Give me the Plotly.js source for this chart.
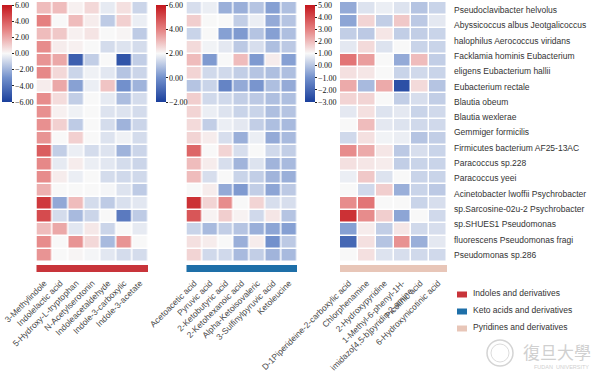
<!DOCTYPE html>
<html><head><meta charset="utf-8">
<script src="https://cdn.plot.ly/plotly-3.0.1.min.js"></script>
<style>html,body{margin:0;padding:0;background:#fff}#chart{width:599px;height:373px}</style>
</head><body><div id="chart"></div>
<script>
const species = [
  'Pseudoclavibacter helvolus','Abyssicoccus albus Jeotgalicoccus','halophilus Aerococcus viridans',
  'Facklamia hominis Eubacterium','eligens Eubacterium hallii','Eubacterium rectale','Blautia obeum',
  'Blautia wexlerae','Gemmiger formicilis','Firmicutes bacterium AF25-13AC','Paracoccus sp.228',
  'Paracoccus yeei','Acinetobacter lwoffii Psychrobacter','sp.Sarcosine-02u-2 Psychrobacter',
  'sp.SHUES1 Pseudomonas','fluorescens Pseudomonas fragi','Pseudomonas sp.286'
];
const indoleCols = ['3-Methylindole','Indolelactic acid','5-Hydroxy-L-tryptophan','N-Acetylserotonin',
  'Indoleacetaldehyde','Indole-3-carboxylic','Indole-3-acetate'];
const ketoCols = ['Acetoacetic acid','Pyruvic acid','2-Ketobutyric acid','2-Ketohexanoic acid',
  'Alpha-Ketoisovaleric','3-Sulfinylpyruvic acid','Ketoleucine'];
const pyridineCols = ['D-1Piperideine-2-carboxylic acid','Chlorphenamine','2-Hydroxypyridine',
  '1-Methyl-6-phenyl-1H-<br>imidazo[4,5-b]pyridin-2-amine','Picolinic acid','6-Hydroxynicotinic acid'];
const rowIds = ['r1','r2','r3','r4','r5','r6','r7','r8','r9','r10','r11','r12','r13','r14','r15','r16','r17','r18','r19','r20'];

const indoleValues = [
  [1.5, 1.5, 0.2, 0.8, -0.4, 0.6, -1.0],
  [3.0, 0.0, 1.5, 0.3, -1.3, 1.0, -0.3],
  [1.5, 1.2, 0.2, 0.5, 0.0, 0.1, -1.3],
  [2.7, 0.3, 0.2, 0.0, -0.8, -0.6, -0.8],
  [2.5, 2.0, -4.8, -1.2, 0.0, -5.2, -1.2],
  [2.8, 0.8, -1.0, -0.2, -0.5, -1.5, -1.0],
  [0.3, 2.0, -2.5, -0.3, 1.3, -3.0, -2.0],
  [2.7, 0.7, -1.2, 0.0, -0.4, -1.7, -0.8],
  [2.6, 0.2, -0.2, 0.0, -0.6, -0.6, -0.8],
  [2.6, 1.0, -1.3, 0.0, -0.8, -2.0, -1.0],
  [2.5, 0.0, 1.0, 0.0, -0.6, -0.2, -0.8],
  [4.0, -1.2, -0.3, -0.8, -0.6, -2.0, -1.0],
  [2.8, -0.4, 0.3, -0.3, -0.5, -0.8, -1.0],
  [2.7, 0.3, -0.3, 0.0, -0.8, -0.9, -0.9],
  [1.8, 0.0, 0.0, 0.0, -0.1, -0.6, -1.3],
  [5.0, -2.3, 1.5, -0.8, -1.3, -0.7, -0.5],
  [4.5, -0.8, -1.8, -1.0, 0.0, -3.8, -1.3],
  [1.5, 2.0, -0.5, 0.4, -1.0, 0.0, -0.4],
  [2.7, 0.0, 2.5, 0.8, -1.8, 2.5, 0.0],
  [2.5, 0.0, 0.1, -0.1, -0.5, -0.8, -0.8]
];
const ketoValues = [
  [1.5, 1.8, 0.6, 0.6, 1.0, 0.3, 0.9],
  [2.7, 2.0, 2.0, 1.2, 1.8, 0.5, 1.0],
  [1.3, 2.0, 0.3, 0.2, 1.0, 0.3, 0.9],
  [2.5, 1.9, 1.7, 1.1, 1.5, 0.9, 1.1],
  [3.0, 0.2, 2.0, 3.0, 0.2, 2.2, 0.3],
  [2.6, 1.4, 1.4, 1.2, 1.0, 0.9, 0.9],
  [1.0, 1.3, -0.3, 0.5, 0.1, 0.9, 0.5],
  [2.7, 1.4, 1.4, 1.2, 1.1, 0.9, 0.9],
  [2.6, 1.8, 1.6, 1.3, 1.3, 0.9, 1.0],
  [2.5, 1.2, 1.8, 1.7, 1.2, 0.9, 0.8],
  [2.6, 2.2, 1.5, 0.6, 1.8, 0.5, 0.8],
  [4.5, 2.0, 2.6, 1.5, 2.0, 1.4, 1.2],
  [3.0, 2.2, 1.5, 0.7, 1.6, 0.7, 0.8],
  [3.0, 1.5, 2.0, 1.3, 1.2, 0.7, 0.6],
  [2.0, 2.2, 0.5, 0.2, 1.2, 0.4, 1.1],
  [5.5, 2.6, 3.8, 2.0, 2.6, 1.5, 1.5],
  [4.8, 2.1, 2.7, 2.1, 1.4, 2.3, 1.0],
  [1.3, 0.8, 1.2, 1.0, 0.6, 0.4, 0.3],
  [2.4, 2.2, 2.0, 0.6, 2.2, 0.0, 1.1],
  [2.6, 1.4, 1.4, 0.8, 1.2, 0.7, 0.8]
];
const pyridineValues = [
  [-0.5, 0.6, 0.8, 0.6, 0.0, 0.3],
  [-0.6, 1.6, 0.2, 1.8, 0.1, 0.7],
  [0.2, 0.1, 1.3, 0.2, 0.2, 0.3],
  [0.7, 1.5, 0.6, 1.0, 0.3, 0.3],
  [3.2, 2.5, 1.0, -0.5, 2.0, 0.2],
  [1.4, 1.3, 1.0, 0.3, 0.4, 0.3],
  [2.3, -0.2, 2.3, -2.6, 1.5, 0.0],
  [1.6, 1.6, 1.0, 0.2, 0.5, 0.2],
  [0.7, 1.4, 0.6, 0.7, 0.3, 0.4],
  [1.0, 2.0, 0.7, 0.6, 0.4, 0.4],
  [0.4, 1.4, 0.9, 0.8, 0.0, 0.2],
  [2.8, 2.3, 1.3, 0.1, 0.5, 0.3],
  [1.4, 1.3, 1.2, 0.2, 0.3, 0.3],
  [0.8, 1.8, 0.6, 1.0, 0.3, 0.3],
  [1.0, 0.4, 1.7, -0.4, 0.3, 0.1],
  [2.8, 3.2, 1.0, 1.0, 0.3, 0.5],
  [4.5, 2.8, 1.7, -0.6, 1.0, 0.4],
  [-0.7, 1.2, 0.2, 1.3, 0.4, 0.5],
  [-2.0, 1.4, 0.0, 2.7, -0.4, 0.7],
  [1.0, 1.4, 0.6, 0.5, 0.4, 0.4]
];
const groupNames = ['Indoles and derivatives','Keto acids and derivatives','Pyridines and derivatives'];
const groupColors = ['#c8343a','#1e6fa8','#e8c6b8'];

const W = 599, H = 373;
const px = v => v / W;
const py = v => 1 - v / H;

const cscale = [[0,'#1a3f9c'],[0.25,'#7290cc'],[0.5,'#f8f8f8'],[0.75,'#e58080'],[1,'#c4161c']];

function cbar(x0, vals){
  return {x: px(x0), xanchor:'left', xpad:0, y: py(5), yanchor:'top', ypad:0,
    len:97, lenmode:'pixels', thickness:10, thicknessmode:'pixels',
    tickvals: vals, tickformat:'.2f', ticks:'outside', ticklen:2, tickwidth:1, tickcolor:'#222',
    tickfont:{family:'Liberation Serif', size:8, color:'#111'}, outlinewidth:0};
}

const panels = [
  {cols: indoleCols, z: indoleValues, zmin:-6, zmax:6, cb:2, ticks:[-6,-4,-2,0,2,4,6], x0:36.5, x1:148},
  {cols: ketoCols, z: ketoValues, zmin:-2, zmax:6, cb:156, ticks:[-2,0,2,4,6], x0:186.5, x1:297},
  {cols: pyridineCols, z: pyridineValues, zmin:-3, zmax:5, cb:305, ticks:[-3,-2,-1,0,1,2,3,4,5], x0:340, x1:447}
];

const traces = [];
const layout = {
  width: W, height: H, margin:{l:0,r:0,t:0,b:0}, paper_bgcolor:'#fff', plot_bgcolor:'#fff',
  showlegend:false, shapes:[], annotations:[]
};
panels.forEach((p, i) => {
  const ax = i === 0 ? '' : String(i + 1);
  traces.push({type:'heatmap', z:p.z, x:p.cols, y:rowIds, xaxis:'x'+ax, yaxis:'y'+ax,
    zmin:p.zmin, zmax:p.zmax, colorscale:cscale, xgap:1.5, ygap:1.5,
    colorbar: cbar(p.cb, p.ticks), hoverinfo:'z'});
  layout['xaxis'+ax] = {domain:[px(p.x0), px(p.x1)], anchor:'y'+ax, tickangle:-45,
    ticks:'outside', ticklen:12, tickcolor:'rgba(0,0,0,0)', showgrid:false, zeroline:false,
    showline:false, automargin:false, tickfont:{family:'Arial, Liberation Sans', size:8.5, color:'#4a4a4a'}};
  layout['yaxis'+ax] = {domain:[py(262), py(2)], anchor:'x'+ax, autorange:'reversed',
    showticklabels:false, showgrid:false, zeroline:false, showline:false, ticks:'', automargin:false};
  layout.shapes.push({type:'rect', xref:'x'+ax+' domain', x0:0, x1:1, yref:'paper',
    y0:py(272), y1:py(265), fillcolor:groupColors[i], line:{width:0}});
});

species.forEach((s, i) => {
  layout.annotations.push({text:s, xref:'paper', yref:'paper', x:px(452), y:py(10 + 15.3*i),
    xanchor:'left', yanchor:'middle', showarrow:false,
    font:{family:'Arial, Liberation Sans', size:8.5, color:'#333'}});
});

const legY = [294.5, 311.5, 328.5];
groupNames.forEach((g, i) => {
  layout.shapes.push({type:'rect', xref:'paper', yref:'paper', x0:px(457), x1:px(467),
    y0:py(legY[i]+3), y1:py(legY[i]-3), fillcolor:groupColors[i], line:{width:0}});
  layout.annotations.push({text:g, xref:'paper', yref:'paper', x:px(470.5), y:py(legY[i]-1.5),
    xanchor:'left', yanchor:'middle', showarrow:false,
    font:{family:'Arial, Liberation Sans', size:8.5, color:'#333'}});
});

// watermark
layout.shapes.push({type:'circle', xref:'paper', yref:'paper', x0:px(487), x1:px(513), y0:py(366), y1:py(340),
  line:{color:'#d4d4d4', width:1.5}, fillcolor:'rgba(0,0,0,0)'});
layout.shapes.push({type:'circle', xref:'paper', yref:'paper', x0:px(491), x1:px(509), y0:py(362), y1:py(344),
  line:{color:'#dcdcdc', width:1}, fillcolor:'rgba(0,0,0,0)'});
layout.annotations.push({text:'復旦大學', xref:'paper', yref:'paper', x:px(557), y:py(351),
  xanchor:'center', yanchor:'middle', showarrow:false,
  font:{family:'Noto Sans CJK TC', size:17, color:'#d0d0d0'}});
layout.annotations.push({text:'FUDAN  UNIVERSITY', xref:'paper', yref:'paper', x:px(561), y:py(367),
  xanchor:'center', yanchor:'middle', showarrow:false,
  font:{family:'Arial, Liberation Sans', size:5.5, color:'#d0d0d0'}});

Plotly.newPlot('chart', traces, layout, {staticPlot:true, displayModeBar:false});
</script></body></html>
